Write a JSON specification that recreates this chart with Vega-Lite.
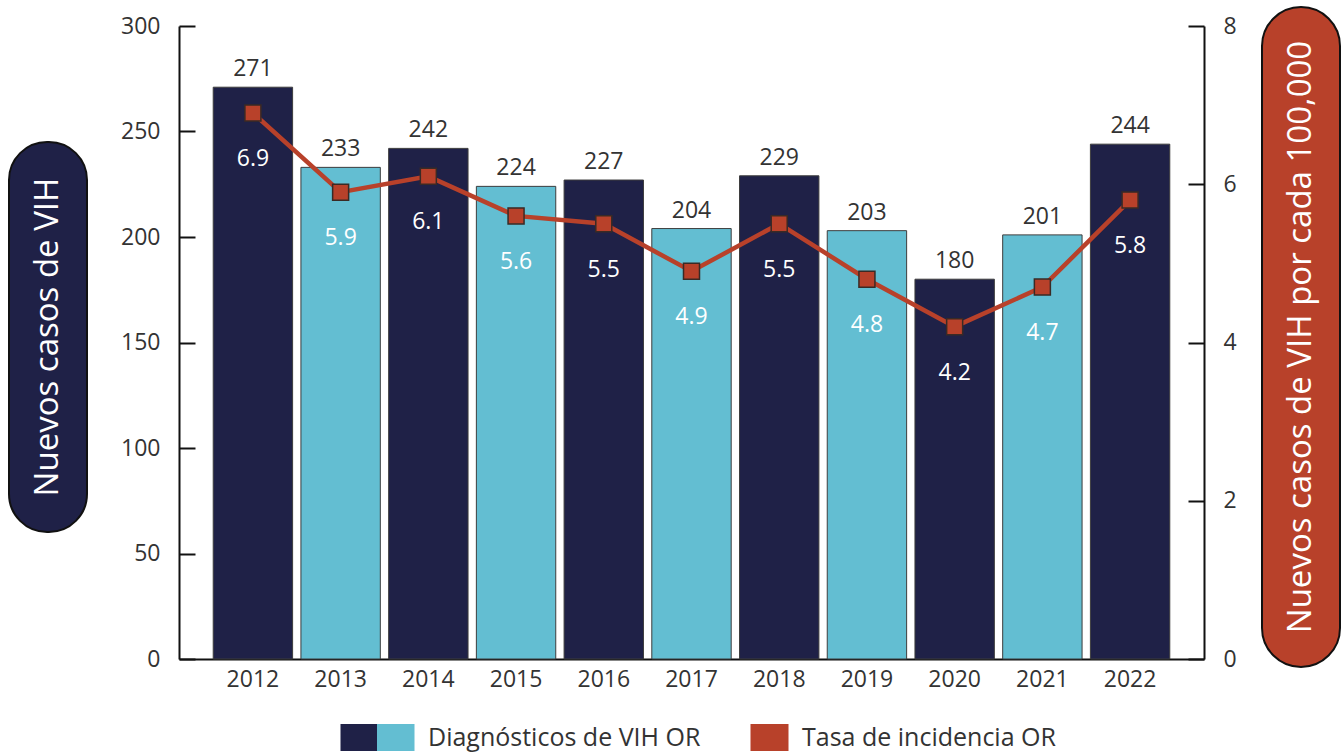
{
  "$schema": "https://vega.github.io/schema/vega-lite/v6.json",
  "padding": {"left": 8, "top": 6, "right": 3, "bottom": 0},
  "bounds": "flush",
  "spacing": 0,
  "config": {"view": {"stroke": null}, "font": "Open Sans"},
  "hconcat": [
    {
      "width": 170,
      "height": 633,
      "data": {"values": [{"titulo": "Nuevos casos de VIH"}]},
      "layer": [
        {
          "mark": {"type": "rect", "cornerRadius": 38, "fill": "#1f2147", "stroke": "#111111", "strokeWidth": 2},
          "encoding": {
            "x": {"datum": 0, "type": "quantitative", "scale": {"domain": [0, 1], "nice": false, "zero": false}, "axis": null},
            "x2": {"datum": 0.4588},
            "y": {"datum": 0.2006, "type": "quantitative", "scale": {"domain": [0, 1], "nice": false, "zero": false}, "axis": null},
            "y2": {"datum": 0.8167}
          }
        },
        {
          "mark": {"type": "text", "angle": 270, "color": "#ffffff", "fontSize": 33, "align": "center", "baseline": "middle"},
          "encoding": {
            "text": {"field": "titulo"},
            "x": {"datum": 0.2294, "type": "quantitative"},
            "y": {"datum": 0.5087, "type": "quantitative"}
          }
        }
      ]
    },
    {
      "width": 1025,
      "height": 633,
      "data": {"values": [
        {"year": 2012, "cases": 271, "rate": 6.9},
        {"year": 2013, "cases": 233, "rate": 5.9},
        {"year": 2014, "cases": 242, "rate": 6.1},
        {"year": 2015, "cases": 224, "rate": 5.6},
        {"year": 2016, "cases": 227, "rate": 5.5},
        {"year": 2017, "cases": 204, "rate": 4.9},
        {"year": 2018, "cases": 229, "rate": 5.5},
        {"year": 2019, "cases": 203, "rate": 4.8},
        {"year": 2020, "cases": 180, "rate": 4.2},
        {"year": 2021, "cases": 201, "rate": 4.7},
        {"year": 2022, "cases": 244, "rate": 5.8}
      ]},
      "encoding": {
        "x": {
          "field": "year", "type": "ordinal",
          "scale": {"paddingInner": 0.095, "paddingOuter": 0.39},
          "axis": {"title": null, "ticks": false, "labelAngle": 0, "labelFontSize": 23, "labelColor": "#333333", "labelPadding": 9, "domainColor": "#111111", "domainWidth": 2}
        }
      },
      "layer": [
        {
          "layer": [
            {
              "mark": {"type": "bar", "stroke": "#3d3d3d", "strokeWidth": 1},
              "encoding": {
                "y": {
                  "field": "cases", "type": "quantitative",
                  "scale": {"domain": [0, 300], "nice": false},
                  "axis": {"orient": "left", "title": null, "grid": false, "values": [0, 50, 100, 150, 200, 250, 300], "tickSize": -16, "tickWidth": 2, "tickColor": "#111111", "domainColor": "#111111", "domainWidth": 2, "labelFontSize": 23, "labelColor": "#333333", "labelPadding": 35}
                },
                "fill": {"condition": {"test": "datum.year % 2 === 1", "value": "#63bed2"}, "value": "#1f2147"}
              }
            },
            {
              "mark": {"type": "text", "fontSize": 23, "color": "#333333", "baseline": "alphabetic", "align": "center", "dy": -11},
              "encoding": {
                "y": {"field": "cases", "type": "quantitative"},
                "text": {"field": "cases", "type": "quantitative"}
              }
            }
          ]
        },
        {
          "layer": [
            {
              "mark": {"type": "line", "strokeWidth": 4.5, "color": "#b8412a"},
              "encoding": {
                "y": {
                  "field": "rate", "type": "quantitative",
                  "scale": {"domain": [0, 8], "nice": false},
                  "axis": {"orient": "right", "title": null, "grid": false, "values": [0, 2, 4, 6, 8], "format": ".0f", "tickSize": -16, "tickWidth": 2, "tickColor": "#111111", "domainColor": "#111111", "domainWidth": 2, "labelFontSize": 23, "labelColor": "#333333", "labelPadding": 35}
                }
              }
            },
            {
              "mark": {"type": "point", "shape": "square", "size": 256, "filled": true, "opacity": 1, "color": "#b8412a", "stroke": "#3a2a25", "strokeWidth": 1.5},
              "encoding": {
                "y": {"field": "rate", "type": "quantitative"}
              }
            },
            {
              "mark": {"type": "point", "filled": true, "opacity": 0, "stroke": "#222222", "strokeWidth": 1},
              "encoding": {
                "y": {"field": "rate", "type": "quantitative"},
                "color": {
                  "datum": "Tasa de incidencia OR", "type": "nominal",
                  "scale": {
                    "domain": ["Diagnósticos de VIH OR", "Tasa de incidencia OR"],
                    "range": [
                      {"expr": "{gradient: 'linear', x1: 0, y1: 0, x2: 1, y2: 0, stops: [{offset: 0, color: '#1f2147'}, {offset: 0.5, color: '#1f2147'}, {offset: 0.5, color: '#63bed2'}, {offset: 1, color: '#63bed2'}]}"},
                      "#b8412a"
                    ]
                  },
                  "legend": {
                    "orient": "none", "legendX": 366, "legendY": 691, "direction": "horizontal", "title": null,
                    "labelFontSize": 25, "labelColor": "#333333", "labelOffset": 12, "labelLimit": 0,
                    "columnPadding": 47, "symbolSize": 1600, "padding": 0,
                    "symbolOpacity": 1, "symbolStrokeColor": "#222222", "symbolStrokeWidth": 1
                  }
                },
                "shape": {
                  "datum": "Tasa de incidencia OR", "type": "nominal",
                  "scale": {
                    "domain": ["Diagnósticos de VIH OR", "Tasa de incidencia OR"],
                    "range": ["M-2.75,-0.675H0.95V0.675H-2.75Z", "M-0.95,-0.675H0.95V0.675H-0.95Z"]
                  },
                  "legend": {
                    "orient": "none", "legendX": 366, "legendY": 691, "direction": "horizontal", "title": null,
                    "labelFontSize": 25, "labelColor": "#333333", "labelOffset": 12, "labelLimit": 0,
                    "columnPadding": 47, "symbolSize": 1600, "padding": 0,
                    "symbolOpacity": 1, "symbolStrokeColor": "#222222", "symbolStrokeWidth": 1
                  }
                }
              }
            },
            {
              "mark": {"type": "text", "fontSize": 23, "color": "#ffffff", "baseline": "alphabetic", "align": "center", "dy": 53},
              "encoding": {
                "y": {"field": "rate", "type": "quantitative"},
                "text": {"field": "rate", "type": "quantitative", "format": ".1f"}
              }
            }
          ]
        }
      ],
      "resolve": {"scale": {"y": "independent"}}
    },
    {
      "width": 136,
      "height": 633,
      "data": {"values": [{"titulo": "Nuevos casos de VIH por cada 100,000"}]},
      "layer": [
        {
          "mark": {"type": "rect", "cornerRadius": 39, "fill": "#b8412a", "stroke": "#111111", "strokeWidth": 2},
          "encoding": {
            "x": {"datum": 0.4265, "type": "quantitative", "scale": {"domain": [0, 1], "nice": false, "zero": false}, "axis": null},
            "x2": {"datum": 1},
            "y": {"datum": -0.0126, "type": "quantitative", "scale": {"domain": [0, 1], "nice": false, "zero": false}, "axis": null},
            "y2": {"datum": 1.03}
          }
        },
        {
          "mark": {"type": "text", "angle": 270, "color": "#ffffff", "fontSize": 33, "align": "center", "baseline": "middle"},
          "encoding": {
            "text": {"field": "titulo"},
            "x": {"datum": 0.713, "type": "quantitative"},
            "y": {"datum": 0.5087, "type": "quantitative"}
          }
        }
      ]
    }
  ]
}
